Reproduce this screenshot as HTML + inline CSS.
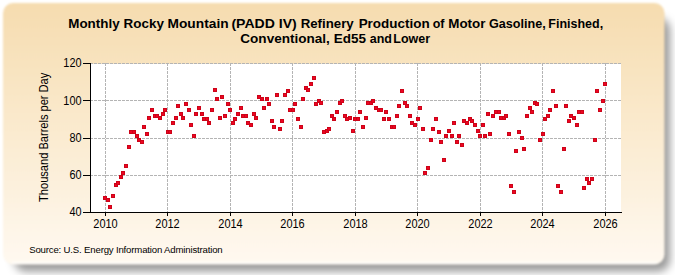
<!DOCTYPE html>
<html><head><meta charset="utf-8"><style>
html,body{margin:0;padding:0;background:#fff;width:675px;height:275px;overflow:hidden}
svg{display:block}
text{font-family:"Liberation Sans",sans-serif;fill:#000}
</style></head><body>
<svg width="675" height="275" viewBox="0 0 675 275">
<defs>
<linearGradient id="bg" gradientUnits="userSpaceOnUse" x1="0" y1="3" x2="0" y2="263">
<stop offset="0" stop-color="#F6DCAF"/>
<stop offset="1" stop-color="#FFF9F0"/>
</linearGradient>
<filter id="sh" x="-10%" y="-10%" width="120%" height="130%"><feGaussianBlur stdDeviation="4"/></filter>
<filter id="pe" x="-2%" y="-2%" width="104%" height="104%"><feGaussianBlur stdDeviation="1.2"/></filter>
</defs>
<rect x="0" y="0" width="675" height="275" fill="#fff"/>
<rect x="14" y="18" width="656" height="253.5" rx="12" fill="#000" fill-opacity="0.40" filter="url(#sh)"/>
<g filter="url(#pe)"><rect x="3" y="3" width="661.5" height="261.5" rx="10" fill="url(#bg)"/><rect x="12" y="262" width="645" height="1.5" fill="#fff" fill-opacity="0.8"/></g>
<rect x="90" y="64" width="531" height="148" fill="#fff"/>
<g shape-rendering="crispEdges" stroke="#b4b4b4" stroke-width="1" stroke-dasharray="3,1" fill="none">
<line x1="90" y1="175.5" x2="621" y2="175.5"/>
<line x1="90" y1="138.5" x2="621" y2="138.5"/>
<line x1="90" y1="100.5" x2="621" y2="100.5"/>
<line x1="90" y1="63.5" x2="621" y2="63.5"/>
<line x1="105.5" y1="63" x2="105.5" y2="212"/>
<line x1="167.5" y1="63" x2="167.5" y2="212"/>
<line x1="230.5" y1="63" x2="230.5" y2="212"/>
<line x1="292.5" y1="63" x2="292.5" y2="212"/>
<line x1="355.5" y1="63" x2="355.5" y2="212"/>
<line x1="417.5" y1="63" x2="417.5" y2="212"/>
<line x1="480.5" y1="63" x2="480.5" y2="212"/>
<line x1="542.5" y1="63" x2="542.5" y2="212"/>
<line x1="605.5" y1="63" x2="605.5" y2="212"/>
</g>
<g shape-rendering="crispEdges" stroke="#000" stroke-width="1" fill="none">
<line x1="90.5" y1="63" x2="90.5" y2="213"/>
<line x1="83" y1="212.5" x2="622" y2="212.5"/>
<line x1="83" y1="175.5" x2="90" y2="175.5"/>
<line x1="83" y1="138.5" x2="90" y2="138.5"/>
<line x1="83" y1="100.5" x2="90" y2="100.5"/>
<line x1="83" y1="63.5" x2="90" y2="63.5"/>
<line x1="105.5" y1="212" x2="105.5" y2="216"/>
<line x1="167.5" y1="212" x2="167.5" y2="216"/>
<line x1="230.5" y1="212" x2="230.5" y2="216"/>
<line x1="292.5" y1="212" x2="292.5" y2="216"/>
<line x1="355.5" y1="212" x2="355.5" y2="216"/>
<line x1="417.5" y1="212" x2="417.5" y2="216"/>
<line x1="480.5" y1="212" x2="480.5" y2="216"/>
<line x1="542.5" y1="212" x2="542.5" y2="216"/>
<line x1="605.5" y1="212" x2="605.5" y2="216"/>
</g>
<g shape-rendering="crispEdges">
<rect x="103" y="196" width="4" height="4" fill="#CC0418"/><rect x="104" y="197" width="2" height="2" fill="#EE0422"/>
<rect x="106" y="198" width="4" height="4" fill="#CC0418"/><rect x="107" y="199" width="2" height="2" fill="#EE0422"/>
<rect x="108" y="205" width="4" height="4" fill="#CC0418"/><rect x="109" y="206" width="2" height="2" fill="#EE0422"/>
<rect x="111" y="194" width="4" height="4" fill="#CC0418"/><rect x="112" y="195" width="2" height="2" fill="#EE0422"/>
<rect x="114" y="183" width="4" height="4" fill="#CC0418"/><rect x="115" y="184" width="2" height="2" fill="#EE0422"/>
<rect x="116" y="181" width="4" height="4" fill="#CC0418"/><rect x="117" y="182" width="2" height="2" fill="#EE0422"/>
<rect x="119" y="175" width="4" height="4" fill="#CC0418"/><rect x="120" y="176" width="2" height="2" fill="#EE0422"/>
<rect x="121" y="171" width="4" height="4" fill="#CC0418"/><rect x="122" y="172" width="2" height="2" fill="#EE0422"/>
<rect x="124" y="164" width="4" height="4" fill="#CC0418"/><rect x="125" y="165" width="2" height="2" fill="#EE0422"/>
<rect x="127" y="145" width="4" height="4" fill="#CC0418"/><rect x="128" y="146" width="2" height="2" fill="#EE0422"/>
<rect x="129" y="130" width="4" height="4" fill="#CC0418"/><rect x="130" y="131" width="2" height="2" fill="#EE0422"/>
<rect x="132" y="130" width="4" height="4" fill="#CC0418"/><rect x="133" y="131" width="2" height="2" fill="#EE0422"/>
<rect x="135" y="134" width="4" height="4" fill="#CC0418"/><rect x="136" y="135" width="2" height="2" fill="#EE0422"/>
<rect x="137" y="138" width="4" height="4" fill="#CC0418"/><rect x="138" y="139" width="2" height="2" fill="#EE0422"/>
<rect x="140" y="140" width="4" height="4" fill="#CC0418"/><rect x="141" y="141" width="2" height="2" fill="#EE0422"/>
<rect x="142" y="125" width="4" height="4" fill="#CC0418"/><rect x="143" y="126" width="2" height="2" fill="#EE0422"/>
<rect x="145" y="132" width="4" height="4" fill="#CC0418"/><rect x="146" y="133" width="2" height="2" fill="#EE0422"/>
<rect x="147" y="116" width="4" height="4" fill="#CC0418"/><rect x="148" y="117" width="2" height="2" fill="#EE0422"/>
<rect x="150" y="108" width="4" height="4" fill="#CC0418"/><rect x="151" y="109" width="2" height="2" fill="#EE0422"/>
<rect x="153" y="114" width="4" height="4" fill="#CC0418"/><rect x="154" y="115" width="2" height="2" fill="#EE0422"/>
<rect x="155" y="114" width="4" height="4" fill="#CC0418"/><rect x="156" y="115" width="2" height="2" fill="#EE0422"/>
<rect x="158" y="116" width="4" height="4" fill="#CC0418"/><rect x="159" y="117" width="2" height="2" fill="#EE0422"/>
<rect x="161" y="112" width="4" height="4" fill="#CC0418"/><rect x="162" y="113" width="2" height="2" fill="#EE0422"/>
<rect x="163" y="108" width="4" height="4" fill="#CC0418"/><rect x="164" y="109" width="2" height="2" fill="#EE0422"/>
<rect x="166" y="130" width="4" height="4" fill="#CC0418"/><rect x="167" y="131" width="2" height="2" fill="#EE0422"/>
<rect x="168" y="130" width="4" height="4" fill="#CC0418"/><rect x="169" y="131" width="2" height="2" fill="#EE0422"/>
<rect x="171" y="121" width="4" height="4" fill="#CC0418"/><rect x="172" y="122" width="2" height="2" fill="#EE0422"/>
<rect x="174" y="116" width="4" height="4" fill="#CC0418"/><rect x="175" y="117" width="2" height="2" fill="#EE0422"/>
<rect x="176" y="104" width="4" height="4" fill="#CC0418"/><rect x="177" y="105" width="2" height="2" fill="#EE0422"/>
<rect x="179" y="112" width="4" height="4" fill="#CC0418"/><rect x="180" y="113" width="2" height="2" fill="#EE0422"/>
<rect x="181" y="116" width="4" height="4" fill="#CC0418"/><rect x="182" y="117" width="2" height="2" fill="#EE0422"/>
<rect x="184" y="102" width="4" height="4" fill="#CC0418"/><rect x="185" y="103" width="2" height="2" fill="#EE0422"/>
<rect x="187" y="108" width="4" height="4" fill="#CC0418"/><rect x="188" y="109" width="2" height="2" fill="#EE0422"/>
<rect x="189" y="123" width="4" height="4" fill="#CC0418"/><rect x="190" y="124" width="2" height="2" fill="#EE0422"/>
<rect x="192" y="134" width="4" height="4" fill="#CC0418"/><rect x="193" y="135" width="2" height="2" fill="#EE0422"/>
<rect x="194" y="112" width="4" height="4" fill="#CC0418"/><rect x="195" y="113" width="2" height="2" fill="#EE0422"/>
<rect x="197" y="106" width="4" height="4" fill="#CC0418"/><rect x="198" y="107" width="2" height="2" fill="#EE0422"/>
<rect x="200" y="112" width="4" height="4" fill="#CC0418"/><rect x="201" y="113" width="2" height="2" fill="#EE0422"/>
<rect x="202" y="117" width="4" height="4" fill="#CC0418"/><rect x="203" y="118" width="2" height="2" fill="#EE0422"/>
<rect x="205" y="117" width="4" height="4" fill="#CC0418"/><rect x="206" y="118" width="2" height="2" fill="#EE0422"/>
<rect x="207" y="121" width="4" height="4" fill="#CC0418"/><rect x="208" y="122" width="2" height="2" fill="#EE0422"/>
<rect x="210" y="108" width="4" height="4" fill="#CC0418"/><rect x="211" y="109" width="2" height="2" fill="#EE0422"/>
<rect x="213" y="88" width="4" height="4" fill="#CC0418"/><rect x="214" y="89" width="2" height="2" fill="#EE0422"/>
<rect x="215" y="97" width="4" height="4" fill="#CC0418"/><rect x="216" y="98" width="2" height="2" fill="#EE0422"/>
<rect x="218" y="116" width="4" height="4" fill="#CC0418"/><rect x="219" y="117" width="2" height="2" fill="#EE0422"/>
<rect x="220" y="95" width="4" height="4" fill="#CC0418"/><rect x="221" y="96" width="2" height="2" fill="#EE0422"/>
<rect x="223" y="114" width="4" height="4" fill="#CC0418"/><rect x="224" y="115" width="2" height="2" fill="#EE0422"/>
<rect x="226" y="102" width="4" height="4" fill="#CC0418"/><rect x="227" y="103" width="2" height="2" fill="#EE0422"/>
<rect x="228" y="108" width="4" height="4" fill="#CC0418"/><rect x="229" y="109" width="2" height="2" fill="#EE0422"/>
<rect x="231" y="121" width="4" height="4" fill="#CC0418"/><rect x="232" y="122" width="2" height="2" fill="#EE0422"/>
<rect x="233" y="117" width="4" height="4" fill="#CC0418"/><rect x="234" y="118" width="2" height="2" fill="#EE0422"/>
<rect x="236" y="112" width="4" height="4" fill="#CC0418"/><rect x="237" y="113" width="2" height="2" fill="#EE0422"/>
<rect x="239" y="106" width="4" height="4" fill="#CC0418"/><rect x="240" y="107" width="2" height="2" fill="#EE0422"/>
<rect x="241" y="114" width="4" height="4" fill="#CC0418"/><rect x="242" y="115" width="2" height="2" fill="#EE0422"/>
<rect x="244" y="114" width="4" height="4" fill="#CC0418"/><rect x="245" y="115" width="2" height="2" fill="#EE0422"/>
<rect x="246" y="121" width="4" height="4" fill="#CC0418"/><rect x="247" y="122" width="2" height="2" fill="#EE0422"/>
<rect x="249" y="123" width="4" height="4" fill="#CC0418"/><rect x="250" y="124" width="2" height="2" fill="#EE0422"/>
<rect x="252" y="112" width="4" height="4" fill="#CC0418"/><rect x="253" y="113" width="2" height="2" fill="#EE0422"/>
<rect x="254" y="116" width="4" height="4" fill="#CC0418"/><rect x="255" y="117" width="2" height="2" fill="#EE0422"/>
<rect x="257" y="95" width="4" height="4" fill="#CC0418"/><rect x="258" y="96" width="2" height="2" fill="#EE0422"/>
<rect x="260" y="97" width="4" height="4" fill="#CC0418"/><rect x="261" y="98" width="2" height="2" fill="#EE0422"/>
<rect x="262" y="106" width="4" height="4" fill="#CC0418"/><rect x="263" y="107" width="2" height="2" fill="#EE0422"/>
<rect x="265" y="97" width="4" height="4" fill="#CC0418"/><rect x="266" y="98" width="2" height="2" fill="#EE0422"/>
<rect x="267" y="102" width="4" height="4" fill="#CC0418"/><rect x="268" y="103" width="2" height="2" fill="#EE0422"/>
<rect x="270" y="119" width="4" height="4" fill="#CC0418"/><rect x="271" y="120" width="2" height="2" fill="#EE0422"/>
<rect x="272" y="125" width="4" height="4" fill="#CC0418"/><rect x="273" y="126" width="2" height="2" fill="#EE0422"/>
<rect x="275" y="93" width="4" height="4" fill="#CC0418"/><rect x="276" y="94" width="2" height="2" fill="#EE0422"/>
<rect x="278" y="127" width="4" height="4" fill="#CC0418"/><rect x="279" y="128" width="2" height="2" fill="#EE0422"/>
<rect x="280" y="119" width="4" height="4" fill="#CC0418"/><rect x="281" y="120" width="2" height="2" fill="#EE0422"/>
<rect x="283" y="93" width="4" height="4" fill="#CC0418"/><rect x="284" y="94" width="2" height="2" fill="#EE0422"/>
<rect x="286" y="89" width="4" height="4" fill="#CC0418"/><rect x="287" y="90" width="2" height="2" fill="#EE0422"/>
<rect x="288" y="108" width="4" height="4" fill="#CC0418"/><rect x="289" y="109" width="2" height="2" fill="#EE0422"/>
<rect x="291" y="108" width="4" height="4" fill="#CC0418"/><rect x="292" y="109" width="2" height="2" fill="#EE0422"/>
<rect x="293" y="102" width="4" height="4" fill="#CC0418"/><rect x="294" y="103" width="2" height="2" fill="#EE0422"/>
<rect x="296" y="117" width="4" height="4" fill="#CC0418"/><rect x="297" y="118" width="2" height="2" fill="#EE0422"/>
<rect x="299" y="125" width="4" height="4" fill="#CC0418"/><rect x="300" y="126" width="2" height="2" fill="#EE0422"/>
<rect x="301" y="97" width="4" height="4" fill="#CC0418"/><rect x="302" y="98" width="2" height="2" fill="#EE0422"/>
<rect x="304" y="86" width="4" height="4" fill="#CC0418"/><rect x="305" y="87" width="2" height="2" fill="#EE0422"/>
<rect x="306" y="88" width="4" height="4" fill="#CC0418"/><rect x="307" y="89" width="2" height="2" fill="#EE0422"/>
<rect x="309" y="82" width="4" height="4" fill="#CC0418"/><rect x="310" y="83" width="2" height="2" fill="#EE0422"/>
<rect x="312" y="76" width="4" height="4" fill="#CC0418"/><rect x="313" y="77" width="2" height="2" fill="#EE0422"/>
<rect x="314" y="102" width="4" height="4" fill="#CC0418"/><rect x="315" y="103" width="2" height="2" fill="#EE0422"/>
<rect x="317" y="99" width="4" height="4" fill="#CC0418"/><rect x="318" y="100" width="2" height="2" fill="#EE0422"/>
<rect x="319" y="101" width="4" height="4" fill="#CC0418"/><rect x="320" y="102" width="2" height="2" fill="#EE0422"/>
<rect x="322" y="130" width="4" height="4" fill="#CC0418"/><rect x="323" y="131" width="2" height="2" fill="#EE0422"/>
<rect x="325" y="129" width="4" height="4" fill="#CC0418"/><rect x="326" y="130" width="2" height="2" fill="#EE0422"/>
<rect x="327" y="127" width="4" height="4" fill="#CC0418"/><rect x="328" y="128" width="2" height="2" fill="#EE0422"/>
<rect x="330" y="114" width="4" height="4" fill="#CC0418"/><rect x="331" y="115" width="2" height="2" fill="#EE0422"/>
<rect x="332" y="117" width="4" height="4" fill="#CC0418"/><rect x="333" y="118" width="2" height="2" fill="#EE0422"/>
<rect x="335" y="110" width="4" height="4" fill="#CC0418"/><rect x="336" y="111" width="2" height="2" fill="#EE0422"/>
<rect x="338" y="101" width="4" height="4" fill="#CC0418"/><rect x="339" y="102" width="2" height="2" fill="#EE0422"/>
<rect x="340" y="99" width="4" height="4" fill="#CC0418"/><rect x="341" y="100" width="2" height="2" fill="#EE0422"/>
<rect x="343" y="114" width="4" height="4" fill="#CC0418"/><rect x="344" y="115" width="2" height="2" fill="#EE0422"/>
<rect x="345" y="117" width="4" height="4" fill="#CC0418"/><rect x="346" y="118" width="2" height="2" fill="#EE0422"/>
<rect x="348" y="116" width="4" height="4" fill="#CC0418"/><rect x="349" y="117" width="2" height="2" fill="#EE0422"/>
<rect x="351" y="129" width="4" height="4" fill="#CC0418"/><rect x="352" y="130" width="2" height="2" fill="#EE0422"/>
<rect x="353" y="117" width="4" height="4" fill="#CC0418"/><rect x="354" y="118" width="2" height="2" fill="#EE0422"/>
<rect x="356" y="117" width="4" height="4" fill="#CC0418"/><rect x="357" y="118" width="2" height="2" fill="#EE0422"/>
<rect x="358" y="110" width="4" height="4" fill="#CC0418"/><rect x="359" y="111" width="2" height="2" fill="#EE0422"/>
<rect x="361" y="125" width="4" height="4" fill="#CC0418"/><rect x="362" y="126" width="2" height="2" fill="#EE0422"/>
<rect x="364" y="116" width="4" height="4" fill="#CC0418"/><rect x="365" y="117" width="2" height="2" fill="#EE0422"/>
<rect x="366" y="101" width="4" height="4" fill="#CC0418"/><rect x="367" y="102" width="2" height="2" fill="#EE0422"/>
<rect x="369" y="101" width="4" height="4" fill="#CC0418"/><rect x="370" y="102" width="2" height="2" fill="#EE0422"/>
<rect x="371" y="99" width="4" height="4" fill="#CC0418"/><rect x="372" y="100" width="2" height="2" fill="#EE0422"/>
<rect x="374" y="106" width="4" height="4" fill="#CC0418"/><rect x="375" y="107" width="2" height="2" fill="#EE0422"/>
<rect x="377" y="108" width="4" height="4" fill="#CC0418"/><rect x="378" y="109" width="2" height="2" fill="#EE0422"/>
<rect x="379" y="108" width="4" height="4" fill="#CC0418"/><rect x="380" y="109" width="2" height="2" fill="#EE0422"/>
<rect x="382" y="117" width="4" height="4" fill="#CC0418"/><rect x="383" y="118" width="2" height="2" fill="#EE0422"/>
<rect x="384" y="110" width="4" height="4" fill="#CC0418"/><rect x="385" y="111" width="2" height="2" fill="#EE0422"/>
<rect x="387" y="117" width="4" height="4" fill="#CC0418"/><rect x="388" y="118" width="2" height="2" fill="#EE0422"/>
<rect x="390" y="125" width="4" height="4" fill="#CC0418"/><rect x="391" y="126" width="2" height="2" fill="#EE0422"/>
<rect x="392" y="125" width="4" height="4" fill="#CC0418"/><rect x="393" y="126" width="2" height="2" fill="#EE0422"/>
<rect x="395" y="114" width="4" height="4" fill="#CC0418"/><rect x="396" y="115" width="2" height="2" fill="#EE0422"/>
<rect x="397" y="104" width="4" height="4" fill="#CC0418"/><rect x="398" y="105" width="2" height="2" fill="#EE0422"/>
<rect x="400" y="89" width="4" height="4" fill="#CC0418"/><rect x="401" y="90" width="2" height="2" fill="#EE0422"/>
<rect x="403" y="101" width="4" height="4" fill="#CC0418"/><rect x="404" y="102" width="2" height="2" fill="#EE0422"/>
<rect x="405" y="104" width="4" height="4" fill="#CC0418"/><rect x="406" y="105" width="2" height="2" fill="#EE0422"/>
<rect x="408" y="114" width="4" height="4" fill="#CC0418"/><rect x="409" y="115" width="2" height="2" fill="#EE0422"/>
<rect x="410" y="121" width="4" height="4" fill="#CC0418"/><rect x="411" y="122" width="2" height="2" fill="#EE0422"/>
<rect x="413" y="123" width="4" height="4" fill="#CC0418"/><rect x="414" y="124" width="2" height="2" fill="#EE0422"/>
<rect x="416" y="117" width="4" height="4" fill="#CC0418"/><rect x="417" y="118" width="2" height="2" fill="#EE0422"/>
<rect x="418" y="106" width="4" height="4" fill="#CC0418"/><rect x="419" y="107" width="2" height="2" fill="#EE0422"/>
<rect x="421" y="127" width="4" height="4" fill="#CC0418"/><rect x="422" y="128" width="2" height="2" fill="#EE0422"/>
<rect x="423" y="171" width="4" height="4" fill="#CC0418"/><rect x="424" y="172" width="2" height="2" fill="#EE0422"/>
<rect x="426" y="166" width="4" height="4" fill="#CC0418"/><rect x="427" y="167" width="2" height="2" fill="#EE0422"/>
<rect x="429" y="138" width="4" height="4" fill="#CC0418"/><rect x="430" y="139" width="2" height="2" fill="#EE0422"/>
<rect x="431" y="127" width="4" height="4" fill="#CC0418"/><rect x="432" y="128" width="2" height="2" fill="#EE0422"/>
<rect x="434" y="117" width="4" height="4" fill="#CC0418"/><rect x="435" y="118" width="2" height="2" fill="#EE0422"/>
<rect x="437" y="130" width="4" height="4" fill="#CC0418"/><rect x="438" y="131" width="2" height="2" fill="#EE0422"/>
<rect x="439" y="140" width="4" height="4" fill="#CC0418"/><rect x="440" y="141" width="2" height="2" fill="#EE0422"/>
<rect x="442" y="158" width="4" height="4" fill="#CC0418"/><rect x="443" y="159" width="2" height="2" fill="#EE0422"/>
<rect x="444" y="134" width="4" height="4" fill="#CC0418"/><rect x="445" y="135" width="2" height="2" fill="#EE0422"/>
<rect x="447" y="129" width="4" height="4" fill="#CC0418"/><rect x="448" y="130" width="2" height="2" fill="#EE0422"/>
<rect x="450" y="134" width="4" height="4" fill="#CC0418"/><rect x="451" y="135" width="2" height="2" fill="#EE0422"/>
<rect x="452" y="121" width="4" height="4" fill="#CC0418"/><rect x="453" y="122" width="2" height="2" fill="#EE0422"/>
<rect x="455" y="140" width="4" height="4" fill="#CC0418"/><rect x="456" y="141" width="2" height="2" fill="#EE0422"/>
<rect x="457" y="134" width="4" height="4" fill="#CC0418"/><rect x="458" y="135" width="2" height="2" fill="#EE0422"/>
<rect x="460" y="143" width="4" height="4" fill="#CC0418"/><rect x="461" y="144" width="2" height="2" fill="#EE0422"/>
<rect x="462" y="119" width="4" height="4" fill="#CC0418"/><rect x="463" y="120" width="2" height="2" fill="#EE0422"/>
<rect x="465" y="121" width="4" height="4" fill="#CC0418"/><rect x="466" y="122" width="2" height="2" fill="#EE0422"/>
<rect x="468" y="117" width="4" height="4" fill="#CC0418"/><rect x="469" y="118" width="2" height="2" fill="#EE0422"/>
<rect x="470" y="119" width="4" height="4" fill="#CC0418"/><rect x="471" y="120" width="2" height="2" fill="#EE0422"/>
<rect x="473" y="123" width="4" height="4" fill="#CC0418"/><rect x="474" y="124" width="2" height="2" fill="#EE0422"/>
<rect x="476" y="129" width="4" height="4" fill="#CC0418"/><rect x="477" y="130" width="2" height="2" fill="#EE0422"/>
<rect x="478" y="134" width="4" height="4" fill="#CC0418"/><rect x="479" y="135" width="2" height="2" fill="#EE0422"/>
<rect x="481" y="123" width="4" height="4" fill="#CC0418"/><rect x="482" y="124" width="2" height="2" fill="#EE0422"/>
<rect x="483" y="134" width="4" height="4" fill="#CC0418"/><rect x="484" y="135" width="2" height="2" fill="#EE0422"/>
<rect x="486" y="112" width="4" height="4" fill="#CC0418"/><rect x="487" y="113" width="2" height="2" fill="#EE0422"/>
<rect x="488" y="132" width="4" height="4" fill="#CC0418"/><rect x="489" y="133" width="2" height="2" fill="#EE0422"/>
<rect x="491" y="114" width="4" height="4" fill="#CC0418"/><rect x="492" y="115" width="2" height="2" fill="#EE0422"/>
<rect x="494" y="110" width="4" height="4" fill="#CC0418"/><rect x="495" y="111" width="2" height="2" fill="#EE0422"/>
<rect x="497" y="110" width="4" height="4" fill="#CC0418"/><rect x="498" y="111" width="2" height="2" fill="#EE0422"/>
<rect x="499" y="116" width="4" height="4" fill="#CC0418"/><rect x="500" y="117" width="2" height="2" fill="#EE0422"/>
<rect x="502" y="116" width="4" height="4" fill="#CC0418"/><rect x="503" y="117" width="2" height="2" fill="#EE0422"/>
<rect x="504" y="114" width="4" height="4" fill="#CC0418"/><rect x="505" y="115" width="2" height="2" fill="#EE0422"/>
<rect x="507" y="132" width="4" height="4" fill="#CC0418"/><rect x="508" y="133" width="2" height="2" fill="#EE0422"/>
<rect x="509" y="184" width="4" height="4" fill="#CC0418"/><rect x="510" y="185" width="2" height="2" fill="#EE0422"/>
<rect x="512" y="190" width="4" height="4" fill="#CC0418"/><rect x="513" y="191" width="2" height="2" fill="#EE0422"/>
<rect x="514" y="149" width="4" height="4" fill="#CC0418"/><rect x="515" y="150" width="2" height="2" fill="#EE0422"/>
<rect x="517" y="130" width="4" height="4" fill="#CC0418"/><rect x="518" y="131" width="2" height="2" fill="#EE0422"/>
<rect x="520" y="136" width="4" height="4" fill="#CC0418"/><rect x="521" y="137" width="2" height="2" fill="#EE0422"/>
<rect x="522" y="147" width="4" height="4" fill="#CC0418"/><rect x="523" y="148" width="2" height="2" fill="#EE0422"/>
<rect x="525" y="114" width="4" height="4" fill="#CC0418"/><rect x="526" y="115" width="2" height="2" fill="#EE0422"/>
<rect x="528" y="106" width="4" height="4" fill="#CC0418"/><rect x="529" y="107" width="2" height="2" fill="#EE0422"/>
<rect x="530" y="110" width="4" height="4" fill="#CC0418"/><rect x="531" y="111" width="2" height="2" fill="#EE0422"/>
<rect x="533" y="101" width="4" height="4" fill="#CC0418"/><rect x="534" y="102" width="2" height="2" fill="#EE0422"/>
<rect x="535" y="102" width="4" height="4" fill="#CC0418"/><rect x="536" y="103" width="2" height="2" fill="#EE0422"/>
<rect x="538" y="138" width="4" height="4" fill="#CC0418"/><rect x="539" y="139" width="2" height="2" fill="#EE0422"/>
<rect x="541" y="132" width="4" height="4" fill="#CC0418"/><rect x="542" y="133" width="2" height="2" fill="#EE0422"/>
<rect x="543" y="117" width="4" height="4" fill="#CC0418"/><rect x="544" y="118" width="2" height="2" fill="#EE0422"/>
<rect x="546" y="114" width="4" height="4" fill="#CC0418"/><rect x="547" y="115" width="2" height="2" fill="#EE0422"/>
<rect x="548" y="108" width="4" height="4" fill="#CC0418"/><rect x="549" y="109" width="2" height="2" fill="#EE0422"/>
<rect x="551" y="89" width="4" height="4" fill="#CC0418"/><rect x="552" y="90" width="2" height="2" fill="#EE0422"/>
<rect x="554" y="104" width="4" height="4" fill="#CC0418"/><rect x="555" y="105" width="2" height="2" fill="#EE0422"/>
<rect x="556" y="184" width="4" height="4" fill="#CC0418"/><rect x="557" y="185" width="2" height="2" fill="#EE0422"/>
<rect x="559" y="190" width="4" height="4" fill="#CC0418"/><rect x="560" y="191" width="2" height="2" fill="#EE0422"/>
<rect x="562" y="147" width="4" height="4" fill="#CC0418"/><rect x="563" y="148" width="2" height="2" fill="#EE0422"/>
<rect x="564" y="104" width="4" height="4" fill="#CC0418"/><rect x="565" y="105" width="2" height="2" fill="#EE0422"/>
<rect x="567" y="119" width="4" height="4" fill="#CC0418"/><rect x="568" y="120" width="2" height="2" fill="#EE0422"/>
<rect x="569" y="114" width="4" height="4" fill="#CC0418"/><rect x="570" y="115" width="2" height="2" fill="#EE0422"/>
<rect x="572" y="116" width="4" height="4" fill="#CC0418"/><rect x="573" y="117" width="2" height="2" fill="#EE0422"/>
<rect x="575" y="123" width="4" height="4" fill="#CC0418"/><rect x="576" y="124" width="2" height="2" fill="#EE0422"/>
<rect x="577" y="110" width="4" height="4" fill="#CC0418"/><rect x="578" y="111" width="2" height="2" fill="#EE0422"/>
<rect x="580" y="110" width="4" height="4" fill="#CC0418"/><rect x="581" y="111" width="2" height="2" fill="#EE0422"/>
<rect x="582" y="186" width="4" height="4" fill="#CC0418"/><rect x="583" y="187" width="2" height="2" fill="#EE0422"/>
<rect x="585" y="177" width="4" height="4" fill="#CC0418"/><rect x="586" y="178" width="2" height="2" fill="#EE0422"/>
<rect x="587" y="181" width="4" height="4" fill="#CC0418"/><rect x="588" y="182" width="2" height="2" fill="#EE0422"/>
<rect x="590" y="177" width="4" height="4" fill="#CC0418"/><rect x="591" y="178" width="2" height="2" fill="#EE0422"/>
<rect x="593" y="138" width="4" height="4" fill="#CC0418"/><rect x="594" y="139" width="2" height="2" fill="#EE0422"/>
<rect x="595" y="89" width="4" height="4" fill="#CC0418"/><rect x="596" y="90" width="2" height="2" fill="#EE0422"/>
<rect x="598" y="108" width="4" height="4" fill="#CC0418"/><rect x="599" y="109" width="2" height="2" fill="#EE0422"/>
<rect x="601" y="99" width="4" height="4" fill="#CC0418"/><rect x="602" y="100" width="2" height="2" fill="#EE0422"/>
<rect x="603" y="82" width="4" height="4" fill="#CC0418"/><rect x="604" y="83" width="2" height="2" fill="#EE0422"/>
</g>
<text x="68.27" y="28" font-weight="bold" font-size="13" textLength="51.35" lengthAdjust="spacingAndGlyphs">Monthly</text>
<text x="123.57" y="28" font-weight="bold" font-size="13" textLength="40.35" lengthAdjust="spacingAndGlyphs">Rocky</text>
<text x="167.54" y="28" font-weight="bold" font-size="13" textLength="61.06" lengthAdjust="spacingAndGlyphs">Mountain</text>
<text x="231.45" y="28" font-weight="bold" font-size="13" textLength="43.42" lengthAdjust="spacingAndGlyphs">(PADD</text>
<text x="278.82" y="28" font-weight="bold" font-size="13" textLength="17.94" lengthAdjust="spacingAndGlyphs">IV)</text>
<text x="300.68" y="28" font-weight="bold" font-size="13" textLength="53.04" lengthAdjust="spacingAndGlyphs">Refinery</text>
<text x="358.67" y="28" font-weight="bold" font-size="13" textLength="70.96" lengthAdjust="spacingAndGlyphs">Production</text>
<text x="432.76" y="28" font-weight="bold" font-size="13" textLength="11.78" lengthAdjust="spacingAndGlyphs">of</text>
<text x="448.27" y="28" font-weight="bold" font-size="13" textLength="37.23" lengthAdjust="spacingAndGlyphs">Motor</text>
<text x="489.00" y="28" font-weight="bold" font-size="13" textLength="56.70" lengthAdjust="spacingAndGlyphs">Gasoline,</text>
<text x="548.34" y="28" font-weight="bold" font-size="13" textLength="54.78" lengthAdjust="spacingAndGlyphs">Finished,</text>
<text x="240.30" y="43" font-weight="bold" font-size="13" textLength="89.59" lengthAdjust="spacingAndGlyphs">Conventional,</text>
<text x="333.76" y="43" font-weight="bold" font-size="13" textLength="32.21" lengthAdjust="spacingAndGlyphs">Ed55</text>
<text x="369.71" y="43" font-weight="bold" font-size="13" textLength="22.19" lengthAdjust="spacingAndGlyphs">and</text>
<text x="393.33" y="43" font-weight="bold" font-size="13" textLength="36.75" lengthAdjust="spacingAndGlyphs">Lower</text>
<text x="81.5" y="216" text-anchor="end" font-size="12" textLength="12.10" lengthAdjust="spacingAndGlyphs">40</text>
<text x="81.5" y="179" text-anchor="end" font-size="12" textLength="12.10" lengthAdjust="spacingAndGlyphs">60</text>
<text x="81.5" y="142" text-anchor="end" font-size="12" textLength="12.10" lengthAdjust="spacingAndGlyphs">80</text>
<text x="81.5" y="105" text-anchor="end" font-size="12" textLength="18.15" lengthAdjust="spacingAndGlyphs">100</text>
<text x="81.5" y="67" text-anchor="end" font-size="12" textLength="18.15" lengthAdjust="spacingAndGlyphs">120</text>
<text x="105.5" y="228" text-anchor="middle" font-size="12" textLength="24.4" lengthAdjust="spacingAndGlyphs">2010</text>
<text x="167.5" y="228" text-anchor="middle" font-size="12" textLength="24.4" lengthAdjust="spacingAndGlyphs">2012</text>
<text x="230.5" y="228" text-anchor="middle" font-size="12" textLength="24.4" lengthAdjust="spacingAndGlyphs">2014</text>
<text x="292.5" y="228" text-anchor="middle" font-size="12" textLength="24.4" lengthAdjust="spacingAndGlyphs">2016</text>
<text x="355.5" y="228" text-anchor="middle" font-size="12" textLength="24.4" lengthAdjust="spacingAndGlyphs">2018</text>
<text x="417.5" y="228" text-anchor="middle" font-size="12" textLength="24.4" lengthAdjust="spacingAndGlyphs">2020</text>
<text x="480.5" y="228" text-anchor="middle" font-size="12" textLength="24.4" lengthAdjust="spacingAndGlyphs">2022</text>
<text x="542.5" y="228" text-anchor="middle" font-size="12" textLength="24.4" lengthAdjust="spacingAndGlyphs">2024</text>
<text x="605.5" y="228" text-anchor="middle" font-size="12" textLength="24.4" lengthAdjust="spacingAndGlyphs">2026</text>
<text transform="translate(48,137.3) rotate(-90)" text-anchor="middle" font-size="12" textLength="129.2" lengthAdjust="spacingAndGlyphs">Thousand Barrels per Day</text>
<text x="29.2" y="253" font-size="9.6" textLength="193.5" lengthAdjust="spacing" fill="#111">Source: U.S. Energy Information Administration</text>
</svg></body></html>
